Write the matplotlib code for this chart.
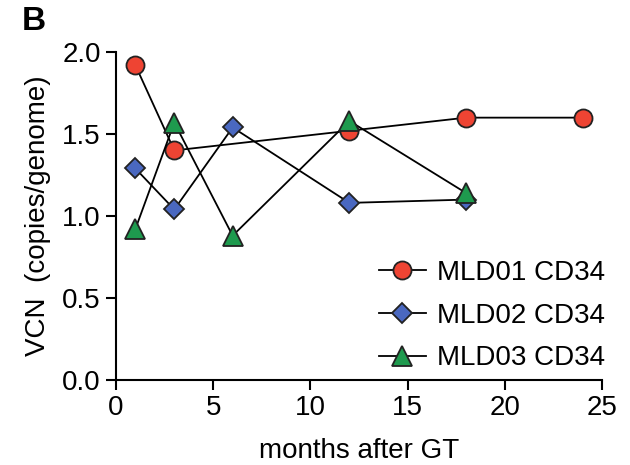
import matplotlib
matplotlib.use("Agg")
import matplotlib.pyplot as plt

# data
mld01_x = [1, 3, 12, 18, 24]
mld01_y = [1.92, 1.40, 1.52, 1.60, 1.60]
mld02_x = [1, 3, 6, 12, 18]
mld02_y = [1.29, 1.04, 1.54, 1.08, 1.10]
mld03_x = [1, 3, 6, 12, 18]
mld03_y = [0.92, 1.57, 0.88, 1.58, 1.14]

x_ticks = [0, 5, 10, 15, 20, 25]
y_ticks = [0.0, 0.5, 1.0, 1.5, 2.0]

plt.rcParams["font.family"] = ["Liberation Sans", "DejaVu Sans"]

fig = plt.figure(figsize=(6.3, 4.65), dpi=100)
ax = fig.add_axes([0.184, 0.183, 0.772, 0.705])

ax.plot(mld01_x, mld01_y, color="black", lw=1.3, marker="o", ms=13,
        mfc="#EE4433", mec="#222222", mew=1.3, label="MLD01 CD34", zorder=3)
ax.plot(mld02_x, mld02_y, color="black", lw=1.3, marker="D", ms=10,
        mfc="#4A68C0", mec="#222222", mew=1.3, label="MLD02 CD34", zorder=3)
ax.plot(mld03_x, mld03_y, color="black", lw=1.3, marker="^", ms=14,
        mfc="#1E9A4E", mec="#222222", mew=1.3, label="MLD03 CD34", zorder=4)

ax.set_xlim(0, 25)
ax.set_ylim(0, 2.0)
ax.set_xticks(x_ticks)
ax.set_yticks(y_ticks)
ax.set_yticklabels(["%.1f" % v for v in y_ticks])

for s in ["top", "right"]:
    ax.spines[s].set_visible(False)
for s in ["left", "bottom"]:
    ax.spines[s].set_linewidth(1.5)

ax.tick_params(direction="out", length=7, width=1.5, labelsize=20, pad=4)
ax.set_xlabel("months after GT", fontsize=20, labelpad=12)
ax.set_ylabel("VCN  (copies/genome)", fontsize=20, labelpad=8)

for m in ax.get_lines():
    m.set_clip_on(False)

leg = ax.legend(loc="lower right", bbox_to_anchor=(1.057, -0.05), frameon=False,
                fontsize=20, handlelength=1.7, handletextpad=0.4,
                labelspacing=0.6)

fig.text(0.035, 0.935, "B", fontsize=24, fontweight="bold")

fig.savefig("out.png", dpi=100)
